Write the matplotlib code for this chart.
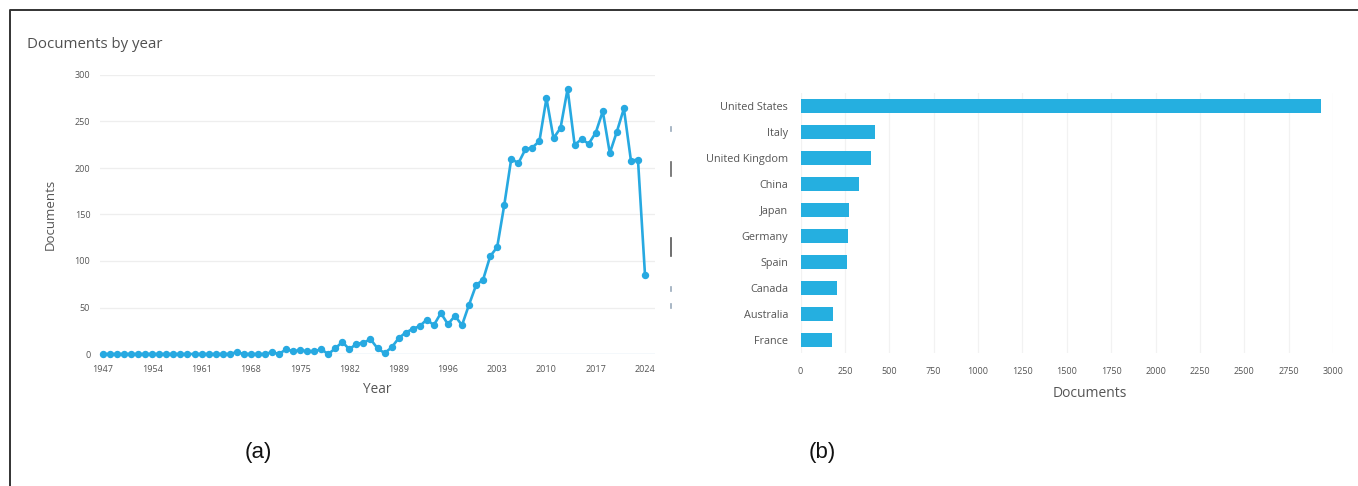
import matplotlib
matplotlib.use("Agg")
import matplotlib.pyplot as plt
from matplotlib.lines import Line2D
import numpy as np

# ---------------- data ----------------
years = list(range(1947, 2025))
documents = [
    0, 0, 0, 0, 0, 0, 0, 0, 0, 0,          # 1947-1956
    0, 0, 0, 0, 0, 0, 0, 0, 0, 2,          # 1957-1966
    0, 0, 0, 0, 2, 0, 5, 3, 4, 3,          # 1967-1976
    3, 5, 0, 6, 13, 5, 11, 12, 16, 6,      # 1977-1986
    1, 7, 17, 23, 27, 30, 37, 31, 44, 32,  # 1987-1996
    41, 31, 53, 74, 80, 105, 115, 160, 210, 205,  # 1997-2006
    220, 222, 229, 275, 232, 243, 285, 225, 231, 226,  # 2007-2016
    238, 261, 216, 239, 264, 208, 209, 85,  # 2017-2024
]
year_ticks = list(range(1947, 2025, 7))
doc_ticks = [0, 50, 100, 150, 200, 250, 300]

countries = ["United States", "Italy", "United Kingdom", "China", "Japan",
             "Germany", "Spain", "Canada", "Australia", "France"]
country_docs = [2935, 420, 397, 329, 273, 268, 262, 206, 181, 176]
country_ticks = list(range(0, 3001, 250))

# ---------------- style ----------------
W, H = 1358, 486
LINE_C = "#27a9e1"
BAR_C = "#25afe0"
TXT_C = "#555555"
GRID_C = "#eeeeee"
FONT = ["Open Sans", "DejaVu Sans"]
plt.rcParams["font.family"] = FONT

fig = plt.figure(figsize=(W / 100, H / 100), dpi=100)
fig.patch.set_facecolor("white")


def ax_rect(x0, y0, x1, y1):
    return [x0 / W, 1 - y1 / H, (x1 - x0) / W, (y1 - y0) / H]


# ---------------- left: line chart ----------------
ax1 = fig.add_axes(ax_rect(100, 75, 655, 354))
ax1.plot(years, documents, color=LINE_C, lw=1.9, marker="o", ms=4.3,
         clip_on=False, zorder=3)
ax1.set_xlim(1946.57, 2025.42)
ax1.set_ylim(0, 300)
ax1.set_xticks(year_ticks)
ax1.set_yticks(doc_ticks)
ax1.tick_params(axis="both", length=0, labelsize=6.5, labelcolor=TXT_C)
ax1.tick_params(axis="x", pad=8)
ax1.tick_params(axis="y", pad=7)
ax1.grid(axis="y", color=GRID_C, lw=0.9)
for s in ax1.spines.values():
    s.set_visible(False)
ax1.axhline(0, color="#cfe9f6", lw=1.0, zorder=1)
ax1.set_xlabel("Year", fontsize=9.8, color=TXT_C, labelpad=6)
ax1.set_ylabel("Documents", fontsize=9.5, color=TXT_C, labelpad=13)
fig.text(27 / W, 1 - 44 / H, "Documents by year", fontsize=10.8, color="#505050",
         ha="left", va="center")

# cut-off marks at the right edge of panel (a)
for (x, y0, y1, c) in [(671, 127, 131, "#9ab"), (671, 162, 176, "#666"),
                       (671, 238, 256, "#555"), (671, 287, 291, "#9ab"),
                       (671, 304, 308, "#9ab")]:
    fig.add_artist(Line2D([x / W, x / W], [1 - y0 / H, 1 - y1 / H],
                          transform=fig.transFigure, color=c, lw=1.2))

# ---------------- right: bar chart ----------------
ax2 = fig.add_axes(ax_rect(800.5, 93, 1333, 353))
ypos = np.arange(len(countries))
ax2.barh(ypos, country_docs, height=0.55, color=BAR_C, zorder=3)
ax2.set_yticks(ypos)
ax2.set_yticklabels(countries)
ax2.set_ylim(len(countries) - 0.5, -0.5)
ax2.set_xlim(0, 3000)
ax2.set_xticks(country_ticks)
ax2.tick_params(axis="both", length=0, labelsize=6.5, labelcolor=TXT_C)
ax2.tick_params(axis="y", labelsize=7.8, pad=9)
ax2.tick_params(axis="x", pad=10)
ax2.grid(axis="x", color="#f2f2f2", lw=0.9)
for s in ax2.spines.values():
    s.set_visible(False)
fig.text(1090 / W, 1 - 393 / H, "Documents", fontsize=10, color=TXT_C,
         ha="center", va="center")

# ---------------- panel labels ----------------
fig.text(258 / W, 1 - 452 / H, "(a)", fontsize=16, color="#111111",
         ha="center", va="center", family=["Liberation Sans", "DejaVu Sans"])
fig.text(822 / W, 1 - 452 / H, "(b)", fontsize=16, color="#111111",
         ha="center", va="center", family=["Liberation Sans", "DejaVu Sans"])

# ---------------- frame (top and left) ----------------
fig.add_artist(Line2D([10 / W, 10 / W, 1.0], [0.0, 1 - 10 / H, 1 - 10 / H],
                      transform=fig.transFigure, color="#333333", lw=1.4))

fig.savefig("out.png", dpi=100, facecolor="white")
